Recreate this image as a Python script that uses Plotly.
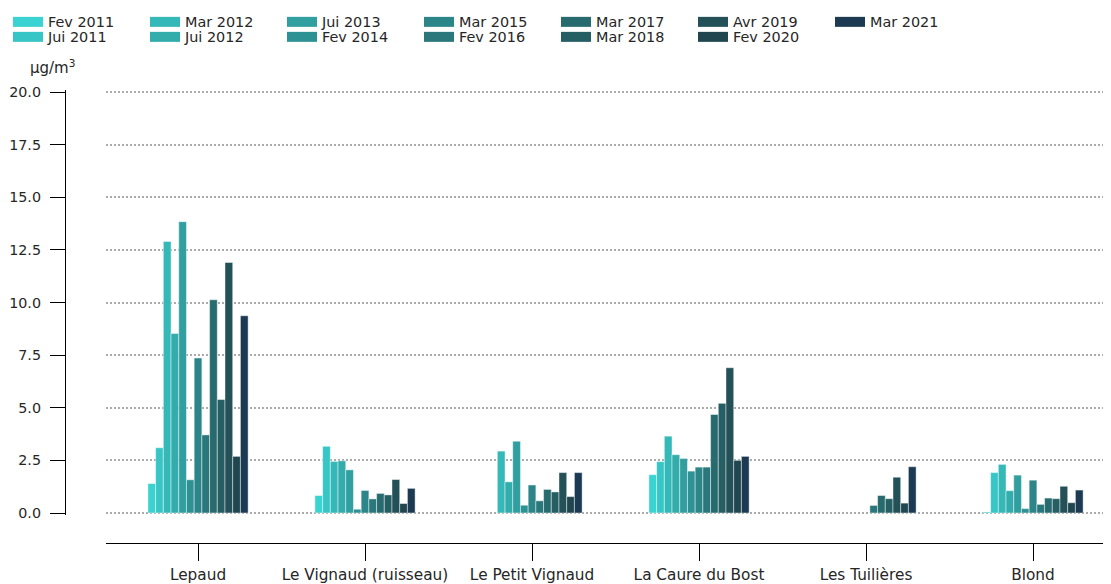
import plotly.graph_objects as go

sites = ["Lepaud", "Le Vignaud (ruisseau)", "Le Petit Vignaud", "La Caure du Bost", "Les Tuilières", "Blond"]
campaigns = ["Fev 2011", "Jui 2011", "Mar 2012", "Jui 2012", "Jui 2013", "Fev 2014", "Mar 2015",
             "Fev 2016", "Mar 2017", "Mar 2018", "Avr 2019", "Fev 2020", "Mar 2021"]

fev_2011 = [1.40, 0.83, None, 1.82, None, 0.05]
jui_2011 = [3.10, 3.17, None, 2.44, None, 1.92]
mar_2012 = [12.90, 2.45, 2.94, 3.65, None, 2.31]
jui_2012 = [8.53, 2.48, 1.48, 2.77, None, 1.06]
jui_2013 = [13.84, 2.05, 3.41, 2.59, None, 1.80]
fev_2014 = [1.58, 0.18, 0.37, 1.99, None, 0.21]
mar_2015 = [7.36, 1.07, 1.33, 2.18, None, 1.56]
fev_2016 = [3.71, 0.67, 0.58, 2.18, 0.36, 0.41]
mar_2017 = [10.13, 0.93, 1.12, 4.68, 0.83, 0.71]
mar_2018 = [5.39, 0.86, 1.00, 5.21, 0.68, 0.68]
avr_2019 = [11.90, 1.59, 1.92, 6.90, 1.70, 1.27]
fev_2020 = [2.69, 0.45, 0.78, 2.50, 0.47, 0.49]
mar_2021 = [9.37, 1.17, 1.92, 2.69, 2.20, 1.09]

series = [fev_2011, jui_2011, mar_2012, jui_2012, jui_2013, fev_2014, mar_2015,
          fev_2016, mar_2017, mar_2018, avr_2019, fev_2020, mar_2021]

colors = ["#3ad3d1", "#37c6c5", "#35b9b8", "#33acac", "#319fa0", "#2e9294", "#2c8588",
          "#2a787b", "#286b6f", "#255e63", "#235157", "#20464f", "#1c3b52"]

y_ticks = [0, 2.5, 5, 7.5, 10, 12.5, 15, 17.5, 20]

FONT = "DejaVu Sans"
TXT = "#262626"

fig = go.Figure()
for i, (name, vals) in enumerate(zip(campaigns, series)):
    fig.add_trace(go.Bar(
        x=sites, y=vals, name=name, showlegend=False, legendgroup=name,
        marker=dict(color=colors[i], line=dict(color="rgba(255,255,255,0.55)", width=0.8)),
    ))
for i, name in enumerate(campaigns):
    fig.add_trace(go.Scatter(
        x=[None], y=[None], name=name, mode="lines", legendgroup=name,
        line=dict(color=colors[i], width=11),
        legend="legend" if i % 2 == 0 else "legend2",
    ))

leg_common = dict(orientation="h", xref="container", yref="container", xanchor="left",
                  yanchor="middle", bgcolor="rgba(0,0,0,0)", font=dict(family=FONT, size=14.4, color=TXT),
                  itemwidth=30, entrywidth=92, tracegroupgap=0)

fig.update_layout(
    width=1103, height=576,
    margin=dict(l=57, r=0, t=82, b=41, pad=0, autoexpand=False),
    paper_bgcolor="white", plot_bgcolor="white",
    font=dict(family=FONT, size=14, color=TXT),
    barmode="group", bargap=0.4, bargroupgap=0,
    xaxis=dict(domain=[0.0392, 1], anchor="free", position=0, range=[-0.551, 5.467],
               automargin=False,
               showline=True, linecolor="black", linewidth=1.3, ticks="outside", ticklen=17,
               tickwidth=1.3, tickcolor="black", showgrid=False, tickfont=dict(size=15.3),
               ticklabelstandoff=0),
    yaxis=dict(domain=[0.0618, 1], anchor="free", position=0, range=[-0.095, 20.095],
               automargin=False,
               tickvals=y_ticks, tickformat=".1f", showline=True, linecolor="black", linewidth=1.3,
               ticks="outside", ticklen=15, tickwidth=1.3, tickcolor="black",
               showgrid=True, gridcolor="#aaaaaa", gridwidth=1.5, griddash="1.5px,2.5px",
               zeroline=False, tickfont=dict(size=14.3), ticklabelstandoff=6),
    legend=dict(x=0.0, y=1 - 14 / 576, **leg_common),
    legend2=dict(x=0.0, y=1 - 29 / 576, **leg_common),
    annotations=[dict(text="µg/m<sup>3</sup>", xref="paper", yref="paper",
                      x=-0.0115, y=1.0508, xanchor="center", yanchor="middle",
                      showarrow=False, font=dict(size=15))],
)

fig.write_html("out.html")
